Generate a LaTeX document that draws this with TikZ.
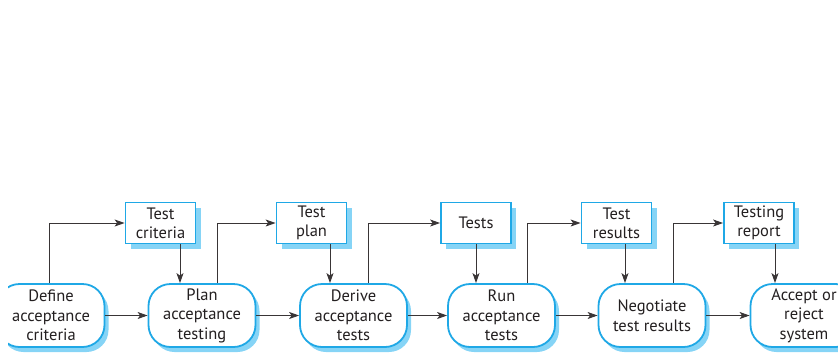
\documentclass[tikz,border=0pt]{standalone}
\usepackage{fontspec}
\setmainfont{PT Sans}
\usetikzlibrary{arrows.meta,shadows}
\definecolor{edgeblue}{HTML}{1FA8E6}
\definecolor{shadeblue}{HTML}{86D4F6}
\definecolor{ink}{HTML}{231F20}
\tikzset{
  procbox/.style={draw=edgeblue, line width=1.8pt, fill=white, rounded corners=22pt,
    minimum width=107pt, minimum height=63pt, align=center, text=ink, inner sep=1pt,
    font=\fontsize{16.5}{19.5}\selectfont,
    drop shadow={shadow xshift=4pt, shadow yshift=-5pt, fill=shadeblue, opacity=1}},
  databox/.style={draw=edgeblue, line width=1.8pt, fill=white,
    minimum width=70pt, minimum height=41pt, align=center, text=ink, inner sep=1pt,
    font=\fontsize{16.5}{19}\selectfont,
    drop shadow={shadow xshift=5pt, shadow yshift=-5pt, fill=shadeblue, opacity=1}},
  arr/.style={draw=ink!90, line width=0.9pt, -{Stealth[length=10pt,width=7pt,inset=2.5pt]}}
}
\begin{document}
\begin{tikzpicture}[x=1pt,y=-1pt]
\useasboundingbox (0,0) rectangle (838,354);
\begin{scope}
\clip (8,0) rectangle (838,354);
\node[procbox] (p1) at (51,315.5) {Define\\acceptance\\criteria};
\node[procbox] (p2) at (202,315.5) {Plan\\acceptance\\testing};
\node[procbox] (p3) at (353.5,315.5) {Derive\\acceptance\\tests};
\node[procbox] (p4) at (501.5,315.5) {Run\\acceptance\\tests};
\node[procbox] (p5) at (652,315.5) {Negotiate\\test results};
\node[procbox] (p6) at (804,315.5) {Accept or\\reject\\system};

\node[databox] (t1) at (160.5,223) {Test\\criteria};
\node[databox] (t2) at (311.5,223) {Test\\plan};
\node[databox] (t3) at (476,223) {Tests};
\node[databox] (t4) at (616.5,223) {Test\\results};
\node[databox] (t5) at (759,223) {Testing\\report};

\draw[arr] (p1) -- (p2);
\draw[arr] (p2) -- (p3);
\draw[arr] (p3) -- (p4);
\draw[arr] (p4) -- (p5);
\draw[arr] (p5) -- (p6);

\draw[arr] (p1.north -| 49,0) |- (t1.west);
\draw[arr] (p2.north -| 217,0) |- (t2.west);
\draw[arr] (p3.north -| 368,0) |- (t3.west);
\draw[arr] (p4.north -| 527,0) |- (t4.west);
\draw[arr] (p5.north -| 673,0) |- (t5.west);

\draw[arr] (t1.south -| 180,0) -- (p2.north -| 180,0);
\draw[arr] (t2.south -| 330,0) -- (p3.north -| 330,0);
\draw[arr] (t3.south) -- (p4.north -| t3.south);
\draw[arr] (t4.south -| 625,0) -- (p5.north -| 625,0);
\draw[arr] (t5.south -| 775,0) -- (p6.north -| 775,0);
\end{scope}
\end{tikzpicture}
\end{document}
